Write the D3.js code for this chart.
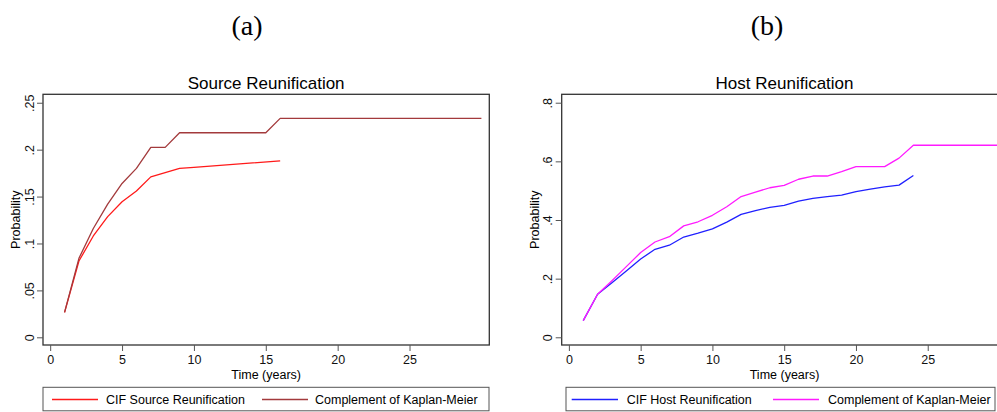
<!DOCTYPE html>
<html lang="en">
<head>
<meta charset="UTF-8">
<title>Reunification curves</title>
<script src="https://d3js.org/d3.v7.min.js"></script>
<style>
    body { margin: 0; background: #fff; }
    svg { display: block; font-family: "Liberation Sans", Arial, sans-serif; }
</style>
</head>
<body>
<svg id="chart" width="997" height="412"></svg>
<script>
// ---- data ----
const sourceCifYears = [1, 2, 3, 4, 5, 6, 7, 8, 9, 10, 16];
const sourceCif = [0.0266, 0.0813, 0.108, 0.1286, 0.1445, 0.156, 0.171, 0.1754, 0.180, 0.1812, 0.188];
const sourceKmYears = [1, 2, 3, 4, 5, 6, 7, 8, 9, 15, 16, 30];
const sourceKm = [0.0266, 0.0842, 0.116, 0.142, 0.164, 0.180, 0.2024, 0.2024, 0.218, 0.218, 0.2333, 0.2333];

const hostCifYears = [1, 2, 3, 4, 5, 6, 7, 8, 9, 10, 11, 12, 13, 14, 15, 16, 17, 18, 19, 20, 21, 22, 23, 24];
const hostCif = [0.057, 0.147, 0.186, 0.226, 0.267, 0.300, 0.314, 0.342, 0.355, 0.370, 0.393, 0.419,
                 0.432, 0.443, 0.450, 0.464, 0.474, 0.480, 0.485, 0.497, 0.505, 0.513, 0.519, 0.552];
const hostKmYears = [1, 2, 3, 4, 5, 6, 7, 8, 9, 10, 11, 12, 13, 14, 15, 16, 17, 18, 19, 20, 21, 22, 23, 24, 30];
const hostKm = [0.057, 0.147, 0.193, 0.241, 0.289, 0.325, 0.343, 0.380, 0.394, 0.416, 0.445, 0.480,
                0.495, 0.510, 0.518, 0.539, 0.550, 0.550, 0.565, 0.582, 0.582, 0.582, 0.611, 0.655, 0.655];

const xTicks = [0, 5, 10, 15, 20, 25];
const sourceYTicks = [0, 0.05, 0.1, 0.15, 0.2, 0.25];
const hostYTicks = [0, 0.2, 0.4, 0.6, 0.8];

const fmtTick = v => v === 0 ? "0" : String(v).replace(/^0/, "");

const svg = d3.select("#chart");

function drawPanel(p) {
    const x = d3.scaleLinear().domain([-0.5, 30.55]).range([p.left, p.right]);
    const y = d3.scaleLinear().domain(p.yDomain).range([345, 94.3]);
    const g = svg.append("g");

    // panel letter
    g.append("text")
        .attr("x", p.letterX).attr("y", 35)
        .attr("text-anchor", "middle")
        .style("font-family", "'Liberation Serif', 'DejaVu Serif', serif")
        .style("font-size", "28px")
        .text(p.letter);

    // subtitle
    g.append("text")
        .attr("x", (p.left + p.right) / 2).attr("y", 89)
        .attr("text-anchor", "middle")
        .style("font-size", "17px")
        .text(p.title);

    // lines
    const line = (xs, ys) => d3.line().x((d, i) => x(xs[i])).y(d => y(d))(ys);
    p.series.forEach(s => {
        g.append("path")
            .attr("d", line(s.xs, s.ys))
            .attr("fill", "none")
            .attr("stroke", s.color)
            .attr("stroke-width", 1.3)
            .attr("stroke-linejoin", "round");
    });

    // plot box
    g.append("rect")
        .attr("x", p.left).attr("y", 94.3)
        .attr("width", p.right - p.left).attr("height", 345 - 94.3)
        .attr("fill", "none").attr("stroke", "#333").attr("stroke-width", 1.3);

    // x axis
    const xa = g.append("g").attr("transform", "translate(0,345)")
        .call(d3.axisBottom(x).tickValues(xTicks).tickSize(6).tickPadding(4.5).tickFormat(d3.format("d")));
    xa.select(".domain").remove();
    xa.selectAll(".tick line").attr("stroke", "#555");
    xa.selectAll("text").style("font-size", "12.5px").attr("fill", "#111");

    // y axis
    const ya = g.append("g").attr("transform", `translate(${p.left},0)`)
        .call(d3.axisLeft(y).tickValues(p.yTicks).tickSize(6).tickFormat(fmtTick));
    ya.select(".domain").remove();
    ya.selectAll(".tick line").attr("stroke", "#555");
    ya.selectAll("text")
        .attr("transform", "rotate(-90)")
        .attr("x", 0).attr("y", -9.5).attr("dy", 0)
        .attr("text-anchor", "middle")
        .style("font-size", "12.5px").attr("fill", "#111");

    // axis titles
    g.append("text")
        .attr("x", (p.left + p.right) / 2).attr("y", 378.5)
        .attr("text-anchor", "middle")
        .style("font-size", "12.5px")
        .text("Time (years)");
    g.append("text")
        .attr("transform", `translate(${p.left - 23},219.7) rotate(-90)`)
        .attr("text-anchor", "middle")
        .style("font-size", "12.5px")
        .text("Probability");

    // legend
    g.append("rect")
        .attr("x", p.legend.x0).attr("y", 387.3)
        .attr("width", p.legend.x1 - p.legend.x0).attr("height", 23.5)
        .attr("fill", "#fff").attr("stroke", "#555").attr("stroke-width", 1);
    p.series.forEach((s, i) => {
        const k = p.legend.items[i];
        g.append("line")
            .attr("x1", k[0]).attr("x2", k[1]).attr("y1", 399.5).attr("y2", 399.5)
            .attr("stroke", s.color).attr("stroke-width", 1.3);
        g.append("text")
            .attr("x", k[2]).attr("y", 404)
            .style("font-size", "12.5px")
            .text(s.label);
    });
}

drawPanel({
    letter: "(a)", letterX: 247,
    title: "Source Reunification",
    left: 43, right: 489.3,
    yDomain: [-0.0082, 0.259], yTicks: sourceYTicks,
    series: [
        {xs: sourceCifYears, ys: sourceCif, color: "#ff1a1a", label: "CIF Source Reunification"},
        {xs: sourceKmYears, ys: sourceKm, color: "#a33a3c", label: "Complement of Kaplan-Meier"}
    ],
    legend: {x0: 43, x1: 489, items: [[52, 98, 106], [262, 308, 315]]}
});

drawPanel({
    letter: "(b)", letterX: 767,
    title: "Host Reunification",
    left: 561.7, right: 1007.4,
    yDomain: [-0.0263, 0.8287], yTicks: hostYTicks,
    series: [
        {xs: hostCifYears, ys: hostCif, color: "#2020ff", label: "CIF Host Reunification"},
        {xs: hostKmYears, ys: hostKm, color: "#ff1aff", label: "Complement of Kaplan-Meier"}
    ],
    legend: {x0: 566, x1: 995, items: [[571.7, 618, 626.7], [773, 819, 828]]}
});
</script>
</body>
</html>
